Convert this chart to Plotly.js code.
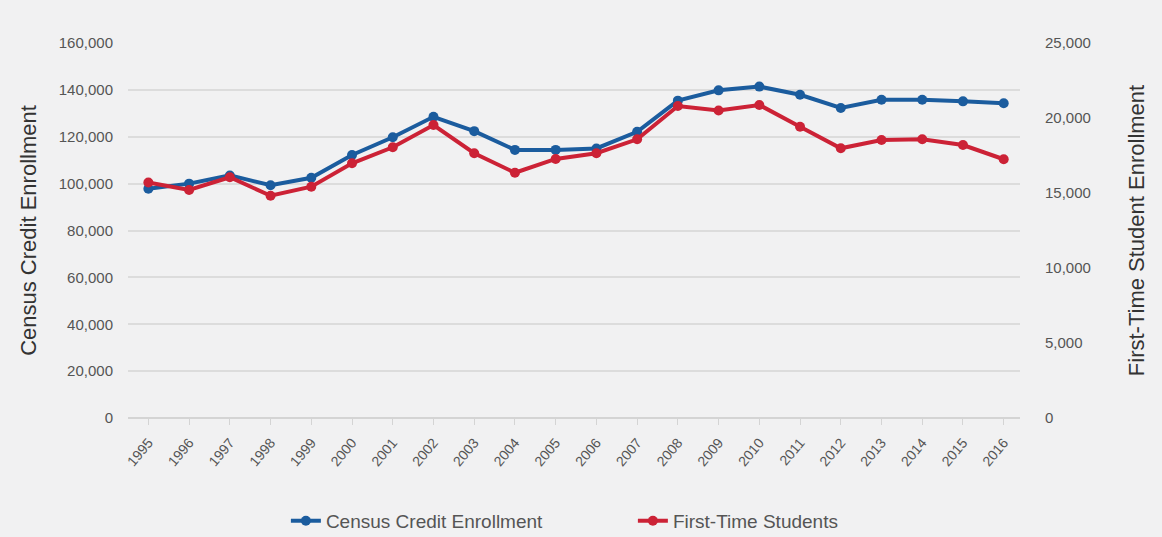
<!DOCTYPE html>
<html>
<head>
<meta charset="utf-8">
<script src="https://cdn.plot.ly/plotly-3.0.1.min.js"></script>
<style>html,body{margin:0;padding:0;background:#f1f1f2;}#chart{width:1162px;height:537px;}</style>
</head>
<body>
<div id="chart"></div>
<script>
const years = ["1995","1996","1997","1998","1999","2000","2001","2002","2003","2004","2005","2006","2007","2008","2009","2010","2011","2012","2013","2014","2015","2016"];
const censusEnrollment = [97800,100000,103500,99300,102500,112200,119800,128500,122400,114400,114400,115000,122100,135400,139800,141400,137900,132300,135800,135800,135100,134300];
const firstTimeStudents = [15700,15200,16050,14820,15420,16980,18050,19530,17650,16350,17270,17650,18580,20800,20500,20870,19420,17980,18530,18580,18200,17250];
const leftTicks = [0,20000,40000,60000,80000,100000,120000,140000,160000];
const rightTicks = [0,5000,10000,15000,20000,25000];

const font = "Liberation Sans, Arial, sans-serif";
const traces = [
  {x: years, y: censusEnrollment, name: "Census Credit Enrollment", type: "scatter", mode: "lines+markers",
   line: {color: "#1b5c9e", width: 4}, marker: {color: "#1b5c9e", size: 10}, yaxis: "y"},
  {x: years, y: firstTimeStudents, name: "First-Time Students", type: "scatter", mode: "lines+markers",
   line: {color: "#cc2236", width: 4}, marker: {color: "#cc2236", size: 10}, yaxis: "y2"}
];
const layout = {
  width: 1162, height: 537,
  paper_bgcolor: "#f1f1f2", plot_bgcolor: "#f1f1f2",
  margin: {l: 128, r: 142, t: 43, b: 119},
  font: {family: font, color: "#555", size: 14},
  showlegend: true,
  legend: {orientation: "h", x: 0.177, xanchor: "left", y: 0.03, yanchor: "middle", yref: "container",
    font: {size: 19, color: "#555"}, entrywidth: 302, entrywidthmode: "pixels", traceorder: "normal"},
  xaxis: {type: "category", range: [-0.5, 21.4], tickangle: -50, showgrid: false, zeroline: false,
    automargin: false, ticks: "outside", ticklen: 6, tickcolor: "#d4d4d4", showline: false,
    ticklabelstandoff: 4, tickfont: {size: 14, color: "#555"}},
  yaxis: {range: [0, 160000], tickvals: leftTicks, tickformat: ",d", showgrid: true, gridcolor: "#dcdcdc", gridwidth: 2,
    automargin: false, zeroline: true, zerolinecolor: "#d4d4d4", zerolinewidth: 2, ticks: "", ticklabelstandoff: 14,
    tickfont: {size: 15, color: "#555"},
    title: {text: "Census Credit Enrollment", font: {size: 22, color: "#333"}, standoff: 16}},
  yaxis2: {range: [0, 25000], tickvals: rightTicks, tickformat: ",d", overlaying: "y", side: "right",
    automargin: false, showgrid: false, zeroline: false, ticks: "", ticklabelstandoff: 24,
    tickfont: {size: 15, color: "#555"},
    title: {text: "First-Time Student Enrollment", font: {size: 22, color: "#333"}, standoff: 38}}
};
Plotly.newPlot("chart", traces, layout, {displayModeBar: false, staticPlot: true});
</script>
</body>
</html>
